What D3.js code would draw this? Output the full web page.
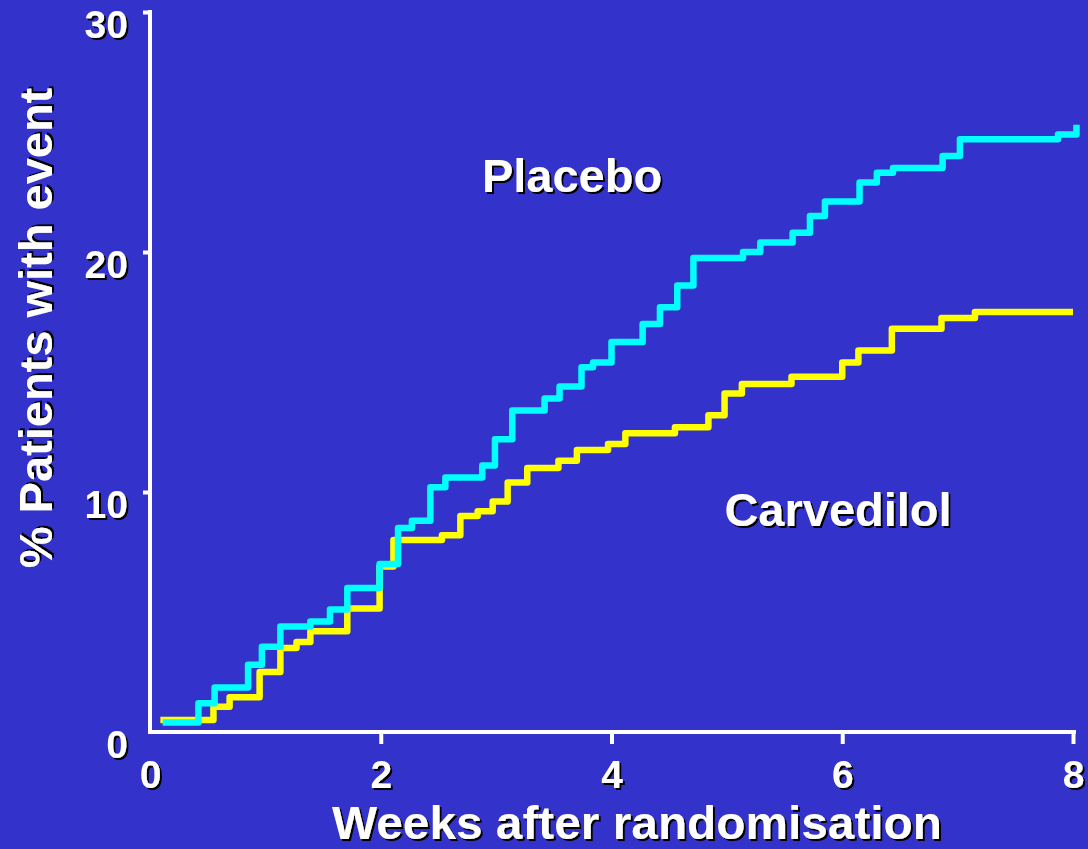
<!DOCTYPE html>
<html>
<head>
<meta charset="utf-8">
<script src="https://cdn.jsdelivr.net/npm/d3@7"></script>
<style>
  html, body { margin: 0; padding: 0; background: #3333cc; overflow: hidden; }
  text { font-family: "Liberation Sans", Arial, sans-serif; font-weight: bold; fill: #ffffff; }
</style>
</head>
<body>
<svg id="chart" width="1088" height="849"></svg>
<script>
// ---- data ----
const xTicks = [0, 2, 4, 6, 8];
const yTicks = [0, 10, 20, 30];
const xTitle = "Weeks after randomisation";
const yTitle = "% Patients with event";
const seriesNames = ["Placebo", "Carvedilol"];

const placeboWeeks = [0.11, 0.42, 0.56, 0.85, 0.97, 1.13, 1.39, 1.56, 1.71, 1.99, 2.15, 2.27, 2.43, 2.56, 2.88, 2.99, 3.14, 3.42, 3.55, 3.74, 3.84, 4.00, 4.27, 4.42, 4.57, 4.71, 5.14, 5.29, 5.57, 5.72, 5.85, 6.15, 6.30, 6.44, 6.87, 7.02, 7.87, 8.03];
const placeboPct   = [0.4, 1.2, 1.85, 2.8, 3.55, 4.4, 4.6, 5.1, 6.0, 7.0, 8.5, 8.8, 10.2, 10.6, 11.1, 12.2, 13.4, 13.9, 14.4, 15.2, 15.4, 16.25, 17.0, 17.7, 18.6, 19.75, 20.0, 20.4, 20.8, 21.5, 22.1, 22.9, 23.3, 23.5, 24.0, 24.7, 24.9, 25.3];

const carvedilolWeeks = [0.09, 0.55, 0.69, 0.95, 1.13, 1.27, 1.39, 1.71, 1.99, 2.11, 2.53, 2.69, 2.84, 2.97, 3.10, 3.27, 3.54, 3.70, 3.97, 4.12, 4.55, 4.84, 4.98, 5.13, 5.56, 6.00, 6.14, 6.43, 6.86, 7.15, 8.00];
const carvedilolPct   = [0.5, 1.05, 1.45, 2.5, 3.5, 3.75, 4.2, 5.15, 6.9, 8.0, 8.2, 9.0, 9.2, 9.6, 10.4, 11.0, 11.3, 11.75, 12.0, 12.45, 12.7, 13.2, 14.1, 14.5, 14.8, 15.4, 15.9, 16.8, 17.25, 17.5, 17.5];

// ---- drawing ----
const W = 1088, H = 849;
const svg = d3.select("#chart");
svg.append("rect").attr("width", W).attr("height", H).attr("fill", "#3333cc");

const defs = svg.append("defs");
const f = defs.append("filter").attr("id", "shadow").attr("x", "-10%").attr("y", "-10%").attr("width", "130%").attr("height", "130%");
f.append("feDropShadow").attr("dx", 2).attr("dy", 2).attr("stdDeviation", 0.4)
  .attr("flood-color", "#000000").attr("flood-opacity", 1);

const x = d3.scaleLinear().domain([0, 8]).range([150, 1073]);
const y = d3.scaleLinear().domain([0, 30]).range([732, 12]);

// axes
const xAxis = svg.append("g").attr("transform", `translate(0,${y(0)})`)
  .call(d3.axisBottom(x).tickValues(xTicks).tickSize(12).tickSizeOuter(0).tickFormat(d3.format("d")));
const yAxis = svg.append("g").attr("transform", `translate(${x(0)},0)`)
  .call(d3.axisLeft(y).tickValues(yTicks).tickSize(7).tickSizeOuter(0).tickFormat(d3.format("d")));

[xAxis, yAxis].forEach(g => {
  g.select(".domain").attr("stroke", "#ffffff").attr("stroke-width", 4);
  g.selectAll(".tick line").attr("stroke", "#ffffff").attr("stroke-width", 4);
  g.selectAll(".tick text").attr("fill", "#ffffff").attr("font-size", 39)
    .attr("font-family", "Liberation Sans, Arial, sans-serif").attr("font-weight", "bold")
    .attr("filter", "url(#shadow)");
});
// remove tick at 0 (corner)
xAxis.selectAll(".tick").filter(d => d === 0).select("line").remove();
yAxis.selectAll(".tick").filter(d => d === 0).select("line").remove();
xAxis.selectAll(".tick text").attr("dy", 0).attr("y", 56);
yAxis.selectAll(".tick text").attr("dy", "0.32em").attr("y", 13).attr("x", -22);
yAxis.select(".domain").attr("d", `M0,${y(0) + 2}V10`);
xAxis.select(".domain").attr("d", `M${x(0) - 2},0H1076`);

// lines
const lineGen = d3.line().x(d => x(d[0])).y(d => y(d[1])).curve(d3.curveStepAfter);
const carvData = carvedilolWeeks.map((w, i) => [w, carvedilolPct[i]]);
const placData = placeboWeeks.map((w, i) => [w, placeboPct[i]]);

svg.append("path").datum(carvData).attr("d", lineGen)
  .attr("fill", "none").attr("stroke", "#ffff00").attr("stroke-width", 6.5)
  .attr("stroke-linejoin", "round");
svg.append("path").datum(placData).attr("d", lineGen)
  .attr("fill", "none").attr("stroke", "#00ffff").attr("stroke-width", 6.5)
  .attr("stroke-linejoin", "round");

// labels
svg.append("text").attr("x", 572).attr("y", 192).attr("text-anchor", "middle")
  .attr("font-size", 47).attr("filter", "url(#shadow)").text(seriesNames[0]);
svg.append("text").attr("x", 838).attr("y", 526).attr("text-anchor", "middle")
  .attr("font-size", 47).attr("filter", "url(#shadow)").text(seriesNames[1]);

// axis titles
svg.append("text").attr("x", 637).attr("y", 838.5).attr("text-anchor", "middle")
  .attr("font-size", 46).attr("textLength", 610).attr("lengthAdjust", "spacingAndGlyphs")
  .attr("filter", "url(#shadow)").text(xTitle);
svg.append("text").attr("transform", "translate(52,328) rotate(-90)").attr("text-anchor", "middle")
  .attr("font-size", 47).attr("filter", "url(#shadow)").text(yTitle);
</script>
</body>
</html>
